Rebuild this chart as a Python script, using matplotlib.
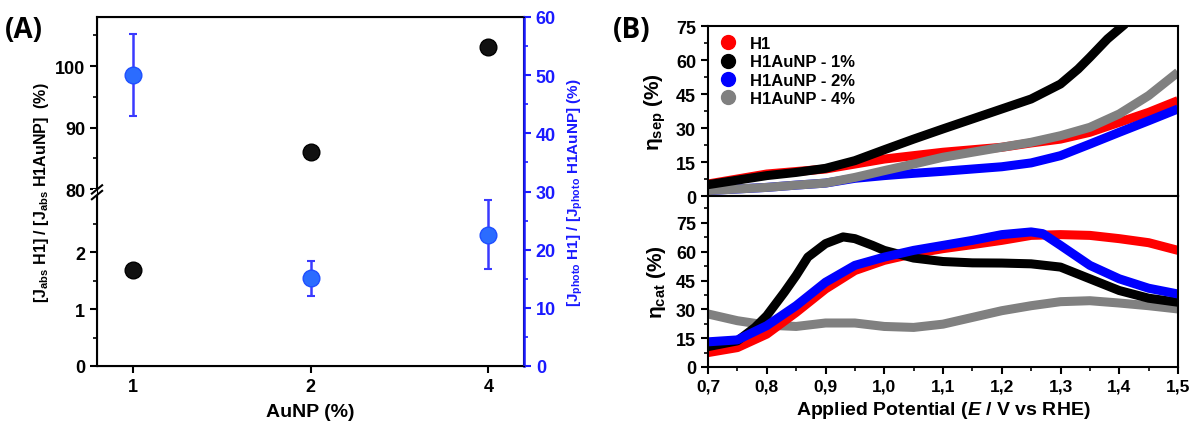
import numpy as np
import matplotlib
matplotlib.use("Agg")
import matplotlib.pyplot as plt
from matplotlib.ticker import MultipleLocator, FixedLocator, FuncFormatter
from matplotlib.lines import Line2D

plt.rcParams['font.family'] = ['Liberation Sans', 'DejaVu Sans']
plt.rcParams['font.weight'] = 'bold'
plt.rcParams['mathtext.fontset'] = 'custom'
plt.rcParams['mathtext.rm'] = 'Liberation Sans'
plt.rcParams['mathtext.bf'] = 'Liberation Sans:bold'
plt.rcParams['mathtext.it'] = 'Liberation Sans:italic'

# ---------------- data: panel A ----------------
aunp_labels = ['1', '2', '4']
jabs_ratio = [1.68, 86.0, 103.1]
jphoto_ratio = [50.0, 15.1, 22.6]
jphoto_err = [7.0, 3.0, 6.0]

# ---------------- data: panel B (eta_sep) ----------------
potential = [0.70, 0.75, 0.80, 0.85, 0.90, 0.95, 1.00, 1.05, 1.10, 1.15, 1.20, 1.25, 1.30, 1.35, 1.40, 1.45, 1.50]
sep_h1 = [5.3, 7.5, 9.7, 10.8, 11.9, 14.1, 16.3, 17.8, 19.3, 20.4, 21.5, 23.4, 25.1, 28.1, 32.5, 36.9, 42.1]
sep_1_x = [0.70, 0.75, 0.80, 0.85, 0.90, 0.95, 1.00, 1.05, 1.10, 1.15, 1.20, 1.25, 1.30, 1.33, 1.35, 1.38, 1.41]
sep_1_y = [5.0, 7.0, 9.0, 10.4, 12.2, 15.6, 20.4, 25.1, 29.6, 34.0, 38.4, 42.8, 49.4, 56.0, 61.2, 69.3, 75.9]
sep_2 = [2.4, 3.1, 3.8, 4.8, 5.7, 7.8, 9.0, 10.0, 10.9, 11.9, 12.9, 14.6, 17.8, 22.9, 28.1, 33.2, 38.4]
sep_4 = [2.4, 3.1, 3.8, 4.8, 5.7, 8.2, 11.2, 14.1, 17.1, 19.3, 21.5, 23.7, 26.6, 30.3, 36.2, 44.3, 54.6]

# ---------------- data: panel B (eta_cat) ----------------
cat_h1 = [7.5, 10.1, 17.1, 28.4, 40.6, 50.2, 55.5, 59.0, 61.6, 63.7, 65.9, 68.5, 68.9, 68.5, 66.8, 64.7, 60.7]
cat_2_x = [0.70, 0.75, 0.80, 0.85, 0.90, 0.95, 1.00, 1.05, 1.10, 1.15, 1.20, 1.25, 1.27, 1.30, 1.35, 1.40, 1.45, 1.50]
cat_2_y = [13.1, 14.1, 21.5, 31.9, 44.1, 52.9, 57.2, 60.7, 63.3, 65.9, 68.9, 70.3, 69.4, 63.3, 52.9, 45.9, 41.0, 38.0]
cat_1_x = [0.70, 0.75, 0.78, 0.80, 0.83, 0.85, 0.87, 0.90, 0.93, 0.95, 0.98, 1.00, 1.05, 1.10, 1.15, 1.20,
           1.25, 1.30, 1.35, 1.40, 1.45, 1.50]
cat_1_y = [10.6, 13.6, 20.6, 26.7, 38.9, 47.6, 57.2, 64.2, 67.7, 66.8, 63.3, 60.7, 56.7, 54.9, 54.2, 54.1,
           53.7, 52.0, 45.9, 39.8, 35.8, 33.7]
cat_4 = [27.6, 24.1, 21.8, 21.1, 22.9, 22.9, 21.1, 20.6, 22.3, 25.8, 29.3, 31.9, 34.0, 34.5, 33.3, 31.9, 30.2]

series_labels = ['H1', 'H1AuNP - 1%', 'H1AuNP - 2%', 'H1AuNP - 4%']
series_colors = ['#ff0000', '#000000', '#0000ff', '#808080']

W, H = 1194, 427
fig = plt.figure(figsize=(W / 100, H / 100), dpi=100)

def fx(px):
    return px / W

def fy(py):
    return 1 - py / H

# ---------------- Panel A ----------------
axA = fig.add_axes([fx(97), fy(367), fx(524 - 97), fy(18) - fy(367)])

LOW_TOP, GAP_TOP, K = 3.05, 79.5, 6.15 / 57.0

def fwd(v):
    v = np.asarray(v, dtype=float)
    return np.where(v <= LOW_TOP, v,
                    np.where(v < GAP_TOP, LOW_TOP + (v - LOW_TOP) / (GAP_TOP - LOW_TOP) * 0.001,
                             LOW_TOP + 0.001 + (v - GAP_TOP) * K))

def inv(p):
    p = np.asarray(p, dtype=float)
    return np.where(p <= LOW_TOP, p,
                    np.where(p < LOW_TOP + 0.001, LOW_TOP + (p - LOW_TOP) / 0.001 * (GAP_TOP - LOW_TOP),
                             GAP_TOP + (p - LOW_TOP - 0.001) / K))

axA.set_yscale('function', functions=(fwd, inv))
xpos = np.arange(len(aunp_labels))
axA.plot(xpos, jabs_ratio, 'o', ms=12, mfc='#111111', mec='#000000', zorder=5)
axA.set_ylim(0, 108)
axA.set_xlim(-0.2, 2.2)
axA.yaxis.set_major_locator(FixedLocator([0, 1, 2, 80, 90, 100]))
axA.yaxis.set_minor_locator(FixedLocator([0.5, 1.5, 2.5, 85, 95, 105]))
axA.yaxis.set_major_formatter(FuncFormatter(lambda v, p: f'{v:g}'))
axA.yaxis.set_minor_formatter(FuncFormatter(lambda v, p: ''))
axA.set_xticks(xpos)
axA.set_xticklabels(aunp_labels)
axA.tick_params(axis='both', which='major', direction='out', length=5, width=1.5, labelsize=13)
axA.tick_params(axis='y', which='minor', direction='out', length=3, width=1.2)
for s in axA.spines.values():
    s.set_linewidth(1.5)
axA.set_xlabel('AuNP (%)', fontsize=14, fontweight='bold', labelpad=6)
axA.set_ylabel(r'[J$_{\mathbf{abs}}$ H1] / [J$_{\mathbf{abs}}$ H1AuNP]  (%)', fontsize=11.5,
               fontweight='bold', labelpad=3)

# axis break marks
bf = float(fwd(LOW_TOP + 0.0005) / fwd(108))
axA.add_patch(plt.Rectangle((-0.01, bf - 0.008), 0.02, 0.016, transform=axA.transAxes,
                            facecolor='white', edgecolor='none', clip_on=False, zorder=10))
for dy in (-0.008, 0.008):
    axA.plot([-0.012, 0.012], [bf + dy - 0.012, bf + dy + 0.012], transform=axA.transAxes,
             color='black', lw=1.5, clip_on=False, zorder=11)

axA2 = axA.twinx()
axA2.errorbar(xpos, jphoto_ratio, yerr=jphoto_err, fmt='o', ms=12, mfc='#2b6cff', mec='#1f4fff',
              ecolor='#3a3aff', elinewidth=1.8, capsize=3, capthick=1.5, zorder=5)
axA2.set_ylim(0, 60)
axA2.yaxis.set_major_locator(MultipleLocator(10))
axA2.yaxis.set_minor_locator(MultipleLocator(5))
axA2.tick_params(axis='y', which='major', direction='out', length=5, width=1.5, labelsize=13,
                 colors='#1a1aff')
axA2.tick_params(axis='y', which='minor', direction='out', length=3, width=1.2, colors='#1a1aff')
axA2.spines['right'].set_color('#1a1aff')
axA2.spines['right'].set_linewidth(1.8)
axA2.set_ylabel(r'[J$_{\mathbf{photo}}$ H1] / [J$_{\mathbf{photo}}$ H1AuNP] (%)', fontsize=11,
                fontweight='bold', color='#1a1aff', labelpad=7)

fig.text(fx(5), fy(30), '(A)', fontsize=20, fontweight='bold', family='Open Sans', va='center')
fig.text(fx(613), fy(30), '(B)', fontsize=20, fontweight='bold', family='Open Sans', va='center')

# ---------------- Panel B ----------------
axT = fig.add_axes([fx(708), fy(197), fx(1178 - 708), fy(27) - fy(197)])
axB = fig.add_axes([fx(708), fy(368), fx(1178 - 708), fy(197) - fy(368)], sharex=axT)

lw = 6.5
sep_data = [(potential, sep_h1), (sep_1_x, sep_1_y), (potential, sep_2), (potential, sep_4)]
cat_data = [(potential, cat_h1), (cat_1_x, cat_1_y), (cat_2_x, cat_2_y), (potential, cat_4)]
order_top = [0, 2, 3, 1]
order_bot = [3, 0, 1, 2]
for i in order_top:
    axT.plot(sep_data[i][0], sep_data[i][1], color=series_colors[i], lw=lw,
             solid_capstyle='butt', solid_joinstyle='round')
for i in order_bot:
    axB.plot(cat_data[i][0], cat_data[i][1], color=series_colors[i], lw=lw,
             solid_capstyle='butt', solid_joinstyle='round')

axT.set_ylim(0, 75)
axB.set_ylim(0, 89)
axT.set_xlim(0.7, 1.5)
for ax in (axT, axB):
    ax.yaxis.set_major_locator(MultipleLocator(15))
    ax.yaxis.set_minor_locator(MultipleLocator(7.5))
    ax.tick_params(axis='y', which='major', direction='out', length=5, width=1.5, labelsize=13)
    ax.tick_params(axis='y', which='minor', direction='out', length=3, width=1.2)
    for s in ax.spines.values():
        s.set_linewidth(1.5)
axB.set_yticks([0, 15, 30, 45, 60, 75])
axB.xaxis.set_major_locator(MultipleLocator(0.1))
axB.xaxis.set_minor_locator(MultipleLocator(0.05))
axB.xaxis.set_major_formatter(FuncFormatter(lambda v, p: f'{v:.1f}'.replace('.', ',')))
axB.tick_params(axis='x', which='major', direction='out', length=5, width=1.5, labelsize=12.5)
axB.tick_params(axis='x', which='minor', direction='out', length=3, width=1.2)
axT.tick_params(axis='x', which='both', bottom=False, labelbottom=False)

axT.set_ylabel(r'$\mathrm{\eta}_{\mathbf{sep}}$ (%)', fontsize=15, fontweight='bold', labelpad=6)
axB.set_ylabel(r'$\mathrm{\eta}_{\mathbf{cat}}$ (%)', fontsize=15, fontweight='bold', labelpad=6)
axB.set_xlabel(r'Applied Potential ($\mathbf{\it{E}}$ / V vs RHE)', fontsize=14, fontweight='bold', labelpad=4)

handles = [Line2D([], [], ls='none', marker='o', ms=10, mfc=c, mec=c) for c in series_colors]
axT.legend(handles, series_labels, loc='upper left', frameon=False,
           prop={'weight': 'bold', 'size': 12}, handletextpad=0.7, labelspacing=0.2,
           borderaxespad=0.2, handlelength=1.2)

fig.savefig('out.png', dpi=100)
